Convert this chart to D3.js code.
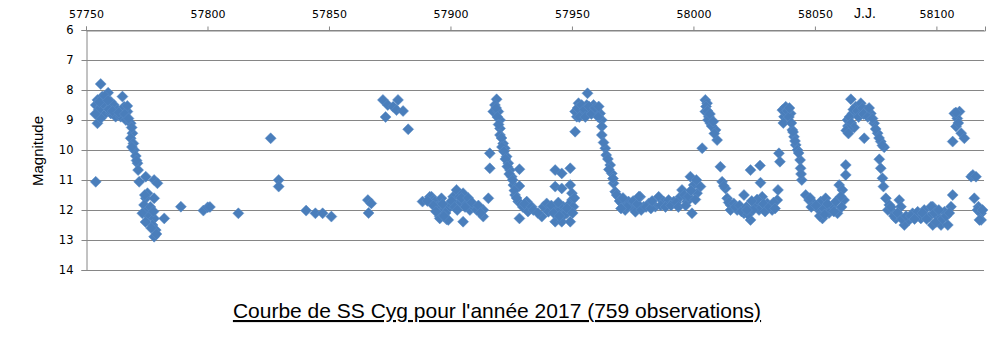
<!DOCTYPE html>
<html>
<head>
<meta charset="utf-8">
<script src="https://cdn.jsdelivr.net/npm/d3@7"></script>
<style>
  body { margin: 0; background: #fff; }
</style>
</head>
<body>
<svg id="chart"></svg>
<script>
// axis ticks
const xTicks = [57750, 57800, 57850, 57900, 57950, 58000, 58050, 58100];
const yTicks = [6, 7, 8, 9, 10, 11, 12, 13, 14];

// observations [JD - 2400000, magnitude], grouped roughly by outburst cycle
const cycleJan = [
  [57754.0, 11.06], [57756.05, 7.8], [57759.1, 8.09], [57754.7, 8.33], [57756.7, 8.22], [57758.1, 8.39],
  [57760.2, 8.39], [57754.0, 8.5], [57756.05, 8.56], [57758.8, 8.56], [57761.5, 8.5], [57765.0, 8.22],
  [57762.9, 8.67], [57765.7, 8.56], [57767.05, 8.72], [57767.0, 8.53], [57754.7, 8.78], [57757.4, 8.83],
  [57760.2, 8.78], [57762.2, 8.89], [57764.3, 8.89], [57766.4, 9.0], [57768.4, 9.11], [57754.7, 9.11],
  [57756.05, 8.94], [57769.1, 9.44], [57768.4, 9.61], [57769.5, 9.78], [57769.8, 10.0], [57770.5, 10.2],
  [57771.2, 10.44], [57771.45, 10.67], [57771.9, 11.06], [57774.6, 10.89], [57778.05, 11.0], [57779.4, 11.11],
  [57775.3, 11.44], [57774.6, 11.61], [57778.05, 11.61], [57773.9, 11.83], [57775.3, 12.0], [57773.2, 12.11],
  [57776.0, 12.22], [57778.05, 12.28], [57782.2, 12.28], [57777.4, 12.5], [57778.7, 12.67], [57778.05, 12.89],
  [57755.3, 8.65], [57757.0, 8.45], [57759.5, 8.65], [57761.0, 8.7], [57763.5, 8.75], [57766.0, 8.8],
  [57767.5, 8.95], [57753.8, 8.8], [57755.5, 8.4], [57757.8, 8.2], [57759.0, 8.35], [57768.8, 9.25],
  [57768.9, 9.9], [57770.8, 10.35], [57774.2, 11.5], [57776.5, 11.9], [57774.5, 12.4], [57777.8, 12.05],
  [57776.8, 12.6], [57779.0, 12.8]
];

const sparseFebMay = [
  [57789.05, 11.89], [57798.3, 12.02], [57800.1, 11.91], [57801.0, 11.9], [57812.7, 12.11], [57826.0, 9.61],
  [57829.3, 11.0], [57829.3, 11.22], [57840.6, 12.02], [57844.4, 12.11], [57847.4, 12.11], [57851.0, 12.22],
  [57866.0, 11.67], [57867.4, 11.78], [57866.3, 12.1], [57872.2, 8.33], [57874.2, 8.5], [57873.3, 8.9],
  [57876.4, 8.56], [57878.4, 8.33], [57877.8, 8.67], [57880.5, 8.7], [57882.6, 9.31]
];

const cycleJun = [
  [57888.5, 11.72], [57891.5, 11.56], [57892.2, 11.56], [57892.9, 11.67], [57893.6, 11.72], [57894.3, 11.9],
  [57894.9, 11.89], [57895.6, 12.22], [57895.6, 12.28], [57896.3, 11.61], [57897.0, 12.0], [57897.7, 12.0],
  [57898.4, 12.31], [57899.1, 12.33], [57899.8, 11.89], [57899.7, 11.78], [57901.1, 11.56], [57902.5, 11.33],
  [57903.9, 11.72], [57903.8, 11.56], [57905.2, 11.44], [57905.2, 12.39], [57906.6, 11.78], [57908.0, 12.0],
  [57909.4, 11.89], [57910.8, 12.0], [57913.5, 12.0], [57913.5, 12.22], [57915.6, 11.61], [57916.2, 10.11],
  [57916.2, 10.61], [57890.5, 11.7], [57893.0, 11.85], [57896.8, 11.8], [57898.0, 12.1], [57900.5, 11.7],
  [57901.8, 11.9], [57904.5, 11.6], [57907.3, 11.6], [57908.8, 11.75], [57911.5, 11.85], [57912.3, 12.1],
  [57894.0, 12.05], [57897.3, 12.2], [57906.0, 11.9], [57902.8, 12.0],
  [57919.0, 8.31], [57918.3, 8.5], [57917.6, 8.72], [57919.7, 8.72], [57920.4, 9.0], [57920.4, 9.28],
  [57920.4, 9.5], [57921.7, 9.78], [57922.4, 9.94], [57923.1, 10.22], [57923.8, 10.44], [57924.5, 10.67],
  [57925.2, 10.89], [57925.9, 11.17], [57926.6, 11.5], [57927.9, 11.72], [57928.4, 10.64], [57928.4, 11.2],
  [57928.4, 12.28], [57931.4, 11.72], [57932.8, 11.94], [57918.8, 8.6], [57919.3, 8.9], [57919.8, 9.15],
  [57921.0, 9.6], [57921.2, 9.9], [57922.0, 10.05], [57922.6, 10.3], [57923.4, 10.55], [57924.2, 10.8],
  [57925.6, 11.0], [57926.3, 11.35], [57927.2, 11.6], [57929.8, 11.9], [57930.5, 11.8], [57931.9, 12.05]
];

const cycleJul = [
  [57933.4, 11.89], [57934.1, 12.0], [57937.6, 12.22], [57938.3, 11.89], [57939.6, 11.78], [57940.3, 12.06],
  [57943.1, 10.67], [57945.8, 10.78], [57943.1, 11.22], [57945.8, 11.28], [57949.3, 10.61], [57949.3, 11.17],
  [57950.0, 11.44], [57950.0, 11.67], [57943.1, 12.39], [57945.8, 12.39], [57949.3, 12.39], [57943.75, 11.89],
  [57945.1, 12.0], [57946.5, 11.89], [57947.9, 12.11], [57948.6, 11.83], [57950.6, 11.89], [57936.0, 12.1],
  [57941.5, 11.85], [57942.5, 12.1], [57944.4, 11.75], [57946.9, 12.15], [57948.0, 11.95], [57950.3, 12.1],
  [57951.0, 11.6], [57944.8, 12.2],
  [57951.3, 9.39], [57952.0, 8.89], [57952.7, 8.44], [57951.3, 8.72], [57953.4, 8.67], [57954.75, 8.78],
  [57956.1, 8.5], [57956.4, 8.11], [57957.5, 8.72], [57958.9, 8.5], [57960.2, 8.67], [57961.6, 8.78],
  [57962.3, 9.0], [57962.3, 9.22], [57962.3, 9.5], [57963.7, 9.94], [57964.1, 10.17], [57965.75, 10.5],
  [57966.4, 10.78], [57967.1, 11.11], [57967.8, 11.39], [57969.2, 11.56], [57970.6, 11.78], [57971.9, 12.0],
  [57973.3, 11.72], [57974.7, 11.89], [57952.3, 8.6], [57953.0, 8.9], [57954.0, 8.5], [57955.2, 8.65],
  [57955.5, 8.9], [57957.0, 8.55], [57958.0, 8.8], [57959.5, 8.6], [57960.8, 8.9], [57961.0, 8.55],
  [57963.0, 9.75], [57964.8, 10.3], [57965.2, 10.65], [57966.9, 10.95], [57968.4, 11.5], [57969.6, 11.7],
  [57971.0, 11.6], [57972.6, 11.9], [57970.2, 11.95]
];

const cycleSep = [
  [57976.1, 12.06], [57978.1, 11.56], [57979.5, 11.89], [57981.6, 11.78], [57984.3, 11.89], [57985.7, 11.56],
  [57987.75, 11.72], [57989.8, 11.67], [57991.9, 11.72], [57994.6, 11.56], [57995.3, 11.33], [57997.4, 11.72],
  [57998.75, 10.89], [57999.4, 12.11], [58000.1, 11.17], [58001.5, 11.44], [58002.9, 11.22], [57975.2, 11.7],
  [57977.0, 11.8], [57978.5, 12.0], [57980.5, 11.9], [57982.5, 11.95], [57983.0, 11.7], [57986.5, 11.85],
  [57988.5, 11.9], [57990.8, 11.85], [57993.0, 11.75], [57993.8, 11.9], [57996.2, 11.5], [57996.8, 11.85],
  [57998.0, 11.55], [57999.0, 11.35], [58000.8, 11.65], [58001.2, 11.0], [57977.6, 11.55],
  [58003.6, 9.94], [58004.9, 8.33], [58005.6, 8.44], [58004.9, 8.72], [58006.3, 8.89], [58007.0, 9.11],
  [58009.1, 9.33], [58009.75, 9.67], [58011.1, 10.56], [58011.8, 11.06], [58013.2, 11.28], [58013.9, 11.61],
  [58015.25, 11.83], [58015.25, 12.0], [58005.2, 8.55], [58005.8, 8.7], [58006.0, 9.0], [58006.8, 8.8],
  [58007.5, 9.2], [58008.2, 9.05], [58008.6, 9.45], [58012.5, 11.2], [58014.5, 11.75]
];

const cycleOct = [
  [58016.6, 11.78], [58018.0, 12.0], [58020.8, 11.5], [58020.8, 12.11], [58023.5, 12.33], [58023.5, 10.67],
  [58025.6, 11.78], [58027.0, 12.0], [58027.4, 10.52], [58027.6, 11.09], [58028.3, 11.56], [58030.4, 11.78],
  [58032.4, 12.0], [58034.5, 11.67], [58034.8, 11.33], [58035.2, 10.11], [58035.6, 10.39], [58017.2, 11.9],
  [58019.0, 11.85], [58019.8, 12.05], [58021.8, 11.9], [58022.5, 12.15], [58024.5, 12.0], [58026.2, 11.65],
  [58028.9, 11.8], [58029.5, 12.05], [58031.2, 11.9], [58033.0, 11.75], [58033.6, 11.95], [58024.0, 11.7],
  [58022.0, 12.0],
  [58036.6, 8.67], [58037.3, 8.89], [58038.0, 8.56], [58040.0, 8.78], [58040.7, 9.33], [58041.4, 9.56],
  [58042.1, 9.83], [58042.8, 10.0], [58043.9, 10.33], [58044.1, 10.61], [58044.6, 11.0], [58037.0, 9.1],
  [58037.8, 8.75], [58038.7, 8.7], [58039.3, 8.9], [58039.5, 8.6], [58040.3, 9.1], [58041.0, 9.4],
  [58041.8, 9.7], [58043.3, 10.1], [58044.3, 10.8]
];

const cycleNov = [
  [58046.2, 11.5], [58047.6, 11.67], [58049.6, 11.78], [58051.7, 12.0], [58053.1, 12.28], [58052.4, 11.72],
  [58054.4, 11.61], [58056.5, 12.0], [58057.2, 11.89], [58058.6, 11.72], [58059.3, 12.11], [58060.0, 11.17],
  [58061.3, 11.33], [58062.0, 11.67], [58062.7, 10.5], [58062.7, 10.83], [58048.5, 11.9], [58050.5, 11.85],
  [58052.0, 12.2], [58053.8, 11.95], [58055.2, 11.8], [58055.8, 12.1], [58057.8, 12.05], [58060.6, 11.55],
  [58061.0, 11.9], [58048.0, 11.6], [58054.0, 12.15],
  [58063.4, 9.0], [58064.1, 9.33], [58064.8, 8.31], [58065.5, 8.78], [58066.8, 8.56], [58068.9, 8.44],
  [58070.3, 9.61], [58071.0, 8.67], [58073.0, 8.78], [58074.4, 9.11], [58075.8, 9.44], [58077.1, 9.72],
  [58078.5, 9.91], [58076.5, 10.31], [58077.1, 10.61], [58077.8, 10.94], [58078.2, 11.22], [58063.6, 9.2],
  [58064.2, 8.9], [58065.0, 9.1], [58065.8, 8.65], [58066.2, 9.25], [58067.5, 8.7], [58068.0, 8.9],
  [58069.5, 8.6], [58070.0, 8.8], [58071.8, 8.9], [58072.3, 8.6], [58073.7, 8.95], [58075.0, 9.3],
  [58076.4, 9.6], [58077.8, 9.85], [58063.6, 9.3], [58062.9, 9.35], [58063.8, 9.45]
];

const cycleDec = [
  [58079.2, 11.61], [58080.6, 11.83], [58081.96, 12.06], [58083.3, 12.28], [58084.7, 11.67], [58085.4, 11.89],
  [58086.8, 12.5], [58088.8, 12.33], [58090.2, 12.11], [58092.3, 12.06], [58093.6, 12.28], [58095.0, 12.0],
  [58097.1, 12.22], [58098.5, 11.89], [58097.8, 11.89], [58098.5, 12.5], [58100.5, 12.22], [58101.9, 12.5],
  [58103.3, 12.06], [58104.7, 12.5], [58106.0, 11.89], [58106.7, 11.5], [58080.0, 12.0], [58081.3, 11.9],
  [58082.5, 12.2], [58084.0, 12.1], [58085.8, 12.3], [58087.5, 12.2], [58089.5, 12.2], [58091.0, 12.3],
  [58094.3, 12.1], [58096.0, 12.3], [58099.2, 12.1], [58099.8, 12.4], [58101.0, 12.0], [58102.6, 12.3],
  [58104.0, 12.2], [58105.3, 12.1],
  [58106.7, 9.72], [58107.4, 8.78], [58109.5, 8.72], [58108.1, 9.22], [58110.2, 9.44], [58111.5, 9.61],
  [58108.6, 8.95], [58109.0, 9.1], [58108.0, 8.75],
  [58114.3, 10.89], [58115.0, 10.83], [58116.3, 10.89], [58115.6, 11.61], [58117.3, 11.89], [58116.9, 12.0],
  [58118.4, 12.11], [58118.4, 12.33], [58117.7, 12.33], [58119.0, 12.0]
];

const observations = [].concat(cycleJan, sparseFebMay, cycleJun, cycleJul, cycleSep, cycleOct, cycleNov, cycleDec);

const dims = {
  width: 997,
  height: 362,
  plot: { left: 86, right: 985, top: 30, bottom: 270 },
};

const svg = d3.select("#chart")
  .attr("width", dims.width)
  .attr("height", dims.height)
  .attr("viewBox", [0, 0, dims.width, dims.height]);

svg.append("rect")
  .attr("width", dims.width)
  .attr("height", dims.height)
  .attr("fill", "#fff");

const x = d3.scaleLinear()
  .domain([57750, 58120])
  .range([dims.plot.left, dims.plot.right]);

// magnitude axis runs downward
const y = d3.scaleLinear()
  .domain([6, 14])
  .range([dims.plot.top, dims.plot.bottom]);

// horizontal grid
svg.append("g")
  .attr("id", "grid")
  .selectAll("line")
  .data(yTicks)
  .enter()
  .append("line")
  .attr("x1", dims.plot.left)
  .attr("x2", dims.plot.right - 1)
  .attr("y1", (d) => y(d) + 0.5)
  .attr("y2", (d) => y(d) + 0.5)
  .attr("stroke", "#868686")
  .attr("stroke-width", 1);

// top x axis
svg.append("g")
  .attr("transform", `translate(0, ${dims.plot.top + 0.5})`)
  .call(d3.axisTop(x).tickValues(xTicks).tickSize(4).tickPadding(9).tickFormat(d3.format("d")))
  .call((g) => {
    g.selectAll("path.domain").attr("stroke", "#868686");
    g.selectAll(".tick line").attr("stroke", "#868686");
    g.selectAll(".tick text")
      .attr("font-size", 11)
      .attr("font-family", "DejaVu Sans, Verdana, sans-serif")
      .attr("fill", "#000");
  });

// left y axis
svg.append("g")
  .attr("transform", `translate(${dims.plot.left + 0.5}, 0)`)
  .call(d3.axisLeft(y).tickValues(yTicks).tickSize(5).tickPadding(8))
  .call((g) => {
    g.selectAll("path.domain").attr("stroke", "#868686");
    g.selectAll(".tick line").attr("stroke", "#868686");
    g.selectAll(".tick text")
      .attr("font-size", 11.5)
      .attr("font-family", "DejaVu Sans, Verdana, sans-serif")
      .attr("fill", "#000");
  });

// axis titles
svg.append("text")
  .attr("x", 854)
  .attr("y", 18)
  .attr("font-size", 14)
  .attr("font-family", "Liberation Sans, Arial, sans-serif")
  .text("J.J.");

svg.append("text")
  .attr("transform", `translate(43, ${(dims.plot.top + dims.plot.bottom) / 2 + 1}) rotate(-90)`)
  .attr("text-anchor", "middle")
  .attr("font-size", 15)
  .attr("font-family", "Liberation Sans, Arial, sans-serif")
  .text("Magnitude");

// diamond markers
const diamond = "M0,-5.5L5.5,0L0,5.5L-5.5,0Z";
svg.append("g")
  .attr("id", "points")
  .selectAll("path")
  .data(observations)
  .enter()
  .append("path")
  .attr("d", diamond)
  .attr("transform", (d) => `translate(${x(d[0])}, ${y(d[1])})`)
  .attr("fill", "#4a7ebb")
  .attr("stroke", "#5b8cc6")
  .attr("stroke-width", 0.5);

// caption
const caption = svg.append("text")
  .attr("x", 497)
  .attr("y", 318)
  .attr("text-anchor", "middle")
  .attr("font-size", 21)
  .attr("font-family", "Liberation Sans, Arial, sans-serif")
  .attr("text-decoration", "underline")
  .text("Courbe de SS Cyg pour l'année 2017 (759 observations)");
</script>
</body>
</html>
